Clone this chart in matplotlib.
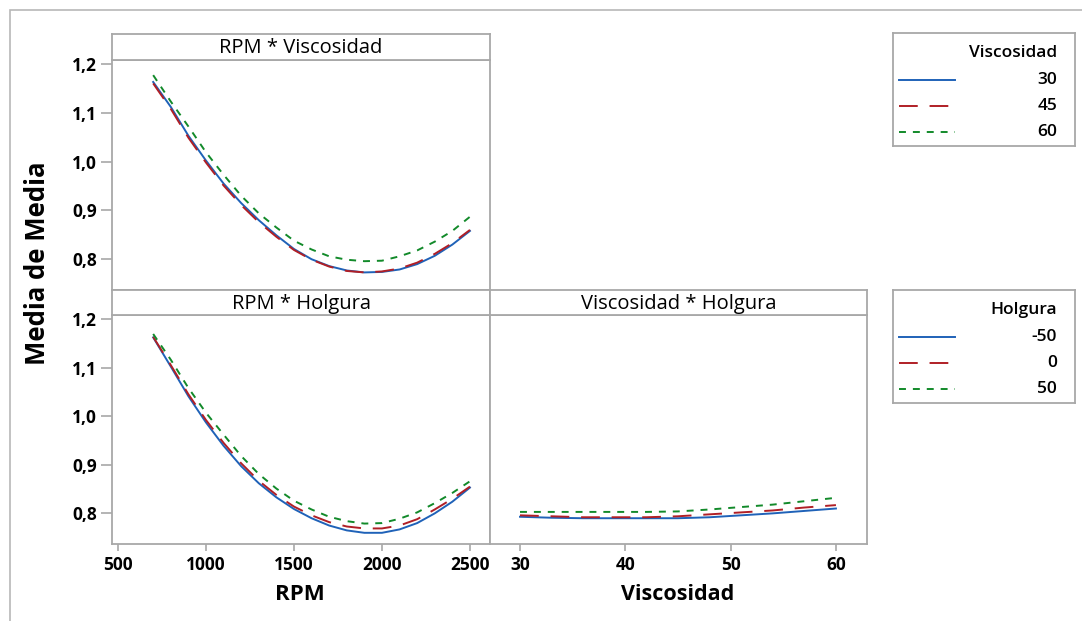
import numpy as np
import matplotlib.pyplot as plt
from matplotlib.patches import Rectangle

plt.rcParams['font.family'] = ['Open Sans', 'DejaVu Sans']
plt.rcParams['lines.scale_dashes'] = False

W, H = 1082, 621

# factor grids
rpm = [700, 800, 900, 1000, 1100, 1200, 1300, 1400, 1500, 1600,
       1700, 1800, 1900, 2000, 2100, 2200, 2300, 2400, 2500]
visc = [30, 33, 36, 39, 42, 45, 48, 51, 54, 57, 60]

# RPM * Viscosidad (one series per viscosity level)
rv_30 = [1.163, 1.112, 1.053, 1.002, 0.955, 0.915, 0.880, 0.849, 0.821, 0.800,
         0.786, 0.777, 0.773, 0.774, 0.779, 0.790, 0.807, 0.830, 0.858]
rv_45 = [1.160, 1.108, 1.049, 0.998, 0.951, 0.911, 0.876, 0.846, 0.819, 0.799,
         0.785, 0.776, 0.773, 0.775, 0.781, 0.793, 0.811, 0.833, 0.860]
rv_60 = [1.177, 1.123, 1.072, 1.019, 0.973, 0.930, 0.894, 0.865, 0.838, 0.820,
         0.806, 0.799, 0.796, 0.797, 0.806, 0.818, 0.836, 0.858, 0.887]

# RPM * Holgura
rh_m50 = [1.162, 1.102, 1.041, 0.987, 0.939, 0.897, 0.862, 0.833, 0.809, 0.790,
          0.775, 0.765, 0.760, 0.760, 0.767, 0.780, 0.800, 0.824, 0.853]
rh_0 = [1.163, 1.105, 1.045, 0.992, 0.945, 0.903, 0.867, 0.838, 0.814, 0.796,
        0.782, 0.773, 0.769, 0.769, 0.775, 0.788, 0.808, 0.830, 0.855]
rh_50 = [1.169, 1.116, 1.058, 1.007, 0.962, 0.918, 0.881, 0.851, 0.826, 0.808,
         0.793, 0.784, 0.779, 0.780, 0.789, 0.802, 0.821, 0.842, 0.866]

# Viscosidad * Holgura
vh_m50 = [0.793, 0.791, 0.790, 0.790, 0.790, 0.790, 0.792, 0.796, 0.800, 0.805, 0.810]
vh_0 = [0.796, 0.794, 0.792, 0.792, 0.792, 0.794, 0.798, 0.802, 0.806, 0.812, 0.817]
vh_50 = [0.803, 0.803, 0.803, 0.803, 0.803, 0.804, 0.808, 0.813, 0.818, 0.825, 0.832]

visc_levels = ['30', '45', '60']
holg_levels = ['-50', '0', '50']

y_ticks = [0.8, 0.9, 1.0, 1.1, 1.2]
y_labels = ['0,8', '0,9', '1,0', '1,1', '1,2']
rpm_ticks = [500, 1000, 1500, 2000, 2500]
visc_ticks = [30, 40, 50, 60]

colors = ['#1f62b8', '#b01f26', '#128a2a']
dashes = [None, (13.5, 8.5), (5, 5)]
frame = '#a8a8a8'

fig = plt.figure(figsize=(W / 100, H / 100), dpi=100)


def px_axes(x0, y0, x1, y1):
    return fig.add_axes([x0 / W, 1 - y1 / H, (x1 - x0) / W, (y1 - y0) / H])


def style(ax):
    for s in ax.spines.values():
        s.set_color(frame)
        s.set_linewidth(1.3)


def draw(ax, x, series):
    for ys, c, d in zip(series, colors, dashes):
        ln, = ax.plot(x, ys, color=c, lw=1.4)
        if d is not None:
            ln.set_dashes(d)


def strip(x0, y0, x1, y1, text):
    sa = px_axes(x0, y0, x1, y1)
    sa.set_xticks([])
    sa.set_yticks([])
    style(sa)
    sa.text(0.5, 0.45, text, ha='center', va='center', fontsize=14.5,
            transform=sa.transAxes)


ylim = (0.737, 1.208)
rpm_lim = (466, 2614)
visc_lim = (27.15, 62.95)

# outer frame
fig.patches.append(Rectangle((10 / W, -0.1), 1.2, 1 - 10 / H + 0.1,
                             transform=fig.transFigure, fill=False,
                             edgecolor='#b8b8b8', lw=1.2))

# top-left: RPM * Viscosidad
ax1 = px_axes(112, 60, 490, 290)
draw(ax1, rpm, [rv_30, rv_45, rv_60])
ax1.set_xlim(rpm_lim)
ax1.set_ylim(ylim)
ax1.set_xticks([])
strip(112, 34, 490, 60, 'RPM * Viscosidad')

# bottom-left: RPM * Holgura
ax2 = px_axes(112, 315, 490, 544)
draw(ax2, rpm, [rh_m50, rh_0, rh_50])
ax2.set_xlim(rpm_lim)
ax2.set_ylim(ylim)
ax2.set_xticks(rpm_ticks)
strip(112, 290, 490, 315, 'RPM * Holgura')

# bottom-right: Viscosidad * Holgura
ax3 = px_axes(490, 315, 867, 544)
draw(ax3, visc, [vh_m50, vh_0, vh_50])
ax3.set_xlim(visc_lim)
ax3.set_ylim(ylim)
ax3.set_yticks([])
ax3.set_xticks(visc_ticks)
strip(490, 290, 867, 315, 'Viscosidad * Holgura')

for ax in (ax1, ax2, ax3):
    style(ax)
    ax.tick_params(axis='x', length=5, width=1.2, color=frame, pad=4,
                   labelsize=12.5)
    ax.tick_params(axis='y', length=8, width=1.2, color=frame, pad=3,
                   labelsize=12.5)
    for lbl in ax.get_xticklabels() + ax.get_yticklabels():
        lbl.set_fontweight('bold')

for ax in (ax1, ax2):
    ax.set_yticks(y_ticks)
    ax.set_yticklabels(y_labels, fontweight='bold')

fig.text(300 / W, 1 - 595 / H, 'RPM', ha='center', va='center',
         fontsize=16, fontweight='bold')
fig.text(678 / W, 1 - 595 / H, 'Viscosidad', ha='center', va='center',
         fontsize=15.5, fontweight='bold')
fig.text(38 / W, 1 - 263 / H, 'Media de Media', ha='center', va='center',
         rotation=90, fontsize=18.5, fontweight='bold')


def legend_box(y0, title, labels):
    la = px_axes(893, y0, 1075, y0 + 113)
    la.set_xlim(0, 182)
    la.set_ylim(113, 0)
    la.set_xticks([])
    la.set_yticks([])
    style(la)
    la.text(164, 20, title, ha='right', va='center', fontsize=12.5,
            fontweight='semibold')
    for i, (lab, c, d) in enumerate(zip(labels, colors, dashes)):
        yy = 47 + i * 26
        ln, = la.plot([6, 62], [yy, yy], color=c, lw=1.4)
        if d is not None:
            ln.set_dashes(d)
        la.text(164, yy, lab, ha='right', va='center', fontsize=12.5,
                fontweight='semibold')


legend_box(33, 'Viscosidad', visc_levels)
legend_box(290, 'Holgura', holg_levels)

fig.savefig('out.png', dpi=100)
